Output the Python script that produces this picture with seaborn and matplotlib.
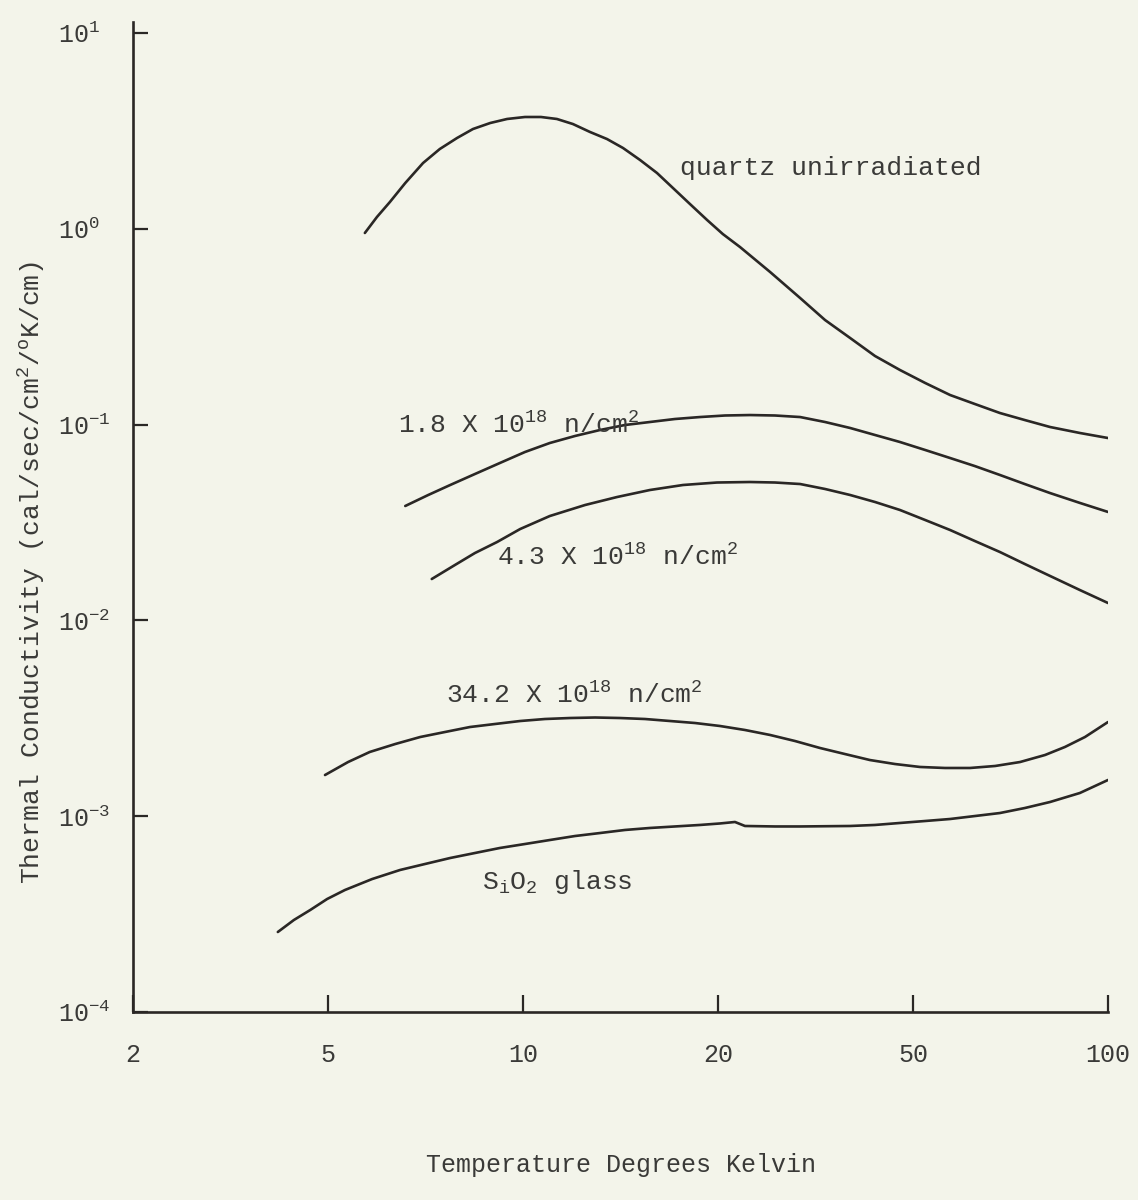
import numpy as np
import pandas as pd
import matplotlib
matplotlib.use("Agg")
import matplotlib.pyplot as plt
import seaborn as sns
from matplotlib.ticker import FixedLocator, FixedFormatter, NullLocator

# ---------------- data ----------------
x_tick_values = [2, 5, 10, 20, 50, 100]
x_tick_labels = ["2", "5", "10", "20", "50", "100"]
y_tick_values = [1e-4, 1e-3, 1e-2, 1e-1, 1e0, 1e1]
y_tick_exps = [-4, -3, -2, -1, 0, 1]

quartz_T = [5.70, 5.95, 6.23, 6.58, 7.01, 7.44, 7.91, 8.37, 8.90, 9.45, 10.07, 10.66,
            11.28, 11.94, 12.69, 13.48, 14.27, 15.16, 16.10, 17.04, 18.10, 19.24, 20.46,
            22.18, 25.55, 29.42, 33.07, 37.21, 41.82, 47.02, 52.2, 57.05, 62.3, 68.1,
            74.4, 81.4, 90.5, 100]
quartz_k = [0.952, 1.149, 1.370, 1.713, 2.168, 2.556, 2.909, 3.233, 3.470, 3.638, 3.724,
            3.724, 3.638, 3.429, 3.122, 2.874, 2.586, 2.246, 1.928, 1.616, 1.339, 1.109,
            0.940, 0.807, 0.6016, 0.4431, 0.3421, 0.2769, 0.2241, 0.1901, 0.1632, 0.1416,
            0.1274, 0.1146, 0.1055, 0.0972, 0.0906, 0.0854]

irr18_T = [6.58, 7.14, 7.72, 8.43, 9.21, 10.07, 11.00, 12.03, 13.15, 14.37, 15.70, 17.16,
           18.76, 20.67, 23.24, 26.14, 29.42, 33.07, 37.21, 41.82, 47.02, 52.2, 57.05,
           62.3, 68.1, 74.4, 81.4, 90.5, 100]
irr18_k = [0.0384, 0.0437, 0.04915, 0.05594, 0.06365, 0.07245, 0.08054, 0.08746, 0.09385,
           0.09954, 0.1031, 0.1068, 0.1093, 0.1113, 0.1119, 0.1113, 0.1093, 0.1031,
           0.0961, 0.0885, 0.0815, 0.0742, 0.0675, 0.0614, 0.0553, 0.0497, 0.0447,
           0.0398, 0.0358]

irr43_T = [7.23, 7.85, 8.43, 9.12, 9.90, 11.00, 12.47, 13.97, 15.70, 17.66, 19.93, 23.24,
           26.14, 29.42, 33.07, 37.21, 41.82, 47.02, 52.2, 57.05, 62.3, 68.1, 74.4, 81.4,
           90.5, 100]
irr43_k = [0.01627, 0.01918, 0.02209, 0.02514, 0.02929, 0.03413, 0.03885, 0.04267,
           0.04634, 0.04915, 0.05061, 0.05091, 0.05061, 0.04972, 0.04690, 0.04370,
           0.04025, 0.03664, 0.03257, 0.02895, 0.02543, 0.02235, 0.01941, 0.01686,
           0.01429, 0.01227]

irr342_T = [4.93, 5.37, 5.80, 6.35, 6.94, 7.58, 8.28, 9.05, 9.90, 10.81, 11.82, 12.92,
            14.11, 15.43, 16.87, 18.43, 20.18, 22.70, 25.55, 28.72, 32.30, 36.32, 40.83,
            45.95, 51.27, 56.03, 61.23, 66.95, 73.15, 79.95, 85.81, 92.15, 100]
irr342_k = [0.001623, 0.001891, 0.002128, 0.002337, 0.002538, 0.002692, 0.002854,
            0.002957, 0.003063, 0.003136, 0.003173, 0.003192, 0.003173, 0.003136,
            0.003063, 0.002992, 0.002889, 0.002756, 0.002599, 0.002421, 0.002230,
            0.002077, 0.001936, 0.001847, 0.001784, 0.001763, 0.001763, 0.001805,
            0.001891, 0.002054, 0.002257, 0.002538, 0.003027]

glass_T = [3.95, 4.26, 4.60, 4.98, 5.31, 5.85, 6.46, 7.06, 7.72, 8.43, 9.21, 10.07, 11.00,
           12.03, 13.15, 14.37, 15.70, 17.16, 18.76, 20.18, 21.66, 22.70, 26.14, 29.42,
           37.21, 41.82, 47.02, 52.2, 57.05, 62.3, 68.1, 74.4, 81.4, 90.5, 100]
glass_k = [0.0002562, 0.0002951, 0.0003319, 0.0003777, 0.0004198, 0.0004777, 0.0005313,
           0.0005701, 0.0006117, 0.0006487, 0.0006881, 0.0007211, 0.0007557, 0.0007921,
           0.0008205, 0.0008505, 0.0008707, 0.0008863, 0.0009021, 0.0009180, 0.0009342,
           0.0008913, 0.0008863, 0.0008863, 0.0008913, 0.0009021, 0.0009234, 0.0009451,
           0.0009676, 0.001002, 0.001038, 0.001101, 0.001182, 0.001314, 0.001531]

series_names = ["quartz", "1.8e18", "4.3e18", "34.2e18", "glass"]

label_texts = [
    "quartz unirradiated",
    r"1.8 X 10$^{\mathdefault{18}}$ n/cm$^{\mathdefault{2}}$",
    r"4.3 X 10$^{\mathdefault{18}}$ n/cm$^{\mathdefault{2}}$",
    r"34.2 X 10$^{\mathdefault{18}}$ n/cm$^{\mathdefault{2}}$",
    r"S$_{\mathdefault{i}}$O$_{\mathdefault{2}}$ glass",
]
label_T = [17.5, 6.41, 9.12, 7.6, 8.65]
label_k = [2.05, 0.0996, 0.0211, 0.00416, 0.00046]

# ---------------- styling ----------------
PAPER = "#f3f4ea"
INK = "#2a2725"
TEXT = "#3a3a38"

sns.set_theme(style="ticks")
plt.rcParams["font.family"] = ["Liberation Mono", "DejaVu Sans Mono"]
plt.rcParams["mathtext.fontset"] = "custom"
plt.rcParams["mathtext.rm"] = "Liberation Mono"
plt.rcParams["mathtext.it"] = "Liberation Mono"
plt.rcParams["mathtext.bf"] = "Liberation Mono:bold"
plt.rcParams["axes.unicode_minus"] = True

fig = plt.figure(figsize=(11.38, 12), dpi=100, facecolor=PAPER)
ax = fig.add_axes([133 / 1138, 1 - 1012 / 1200, (1108 - 133) / 1138, (1012 - 22) / 1200])
ax.set_facecolor(PAPER)

# piecewise scale: 2,5,10,20,50,100 equally spaced (as on the original sheet)
_logs = np.log10(np.array(x_tick_values, dtype=float))
_idx = np.arange(len(x_tick_values), dtype=float)


def _fwd(v):
    v = np.asarray(v, dtype=float)
    return np.interp(np.log10(np.clip(v, 1e-12, None)), _logs, _idx)


def _inv(i):
    i = np.asarray(i, dtype=float)
    return 10 ** np.interp(i, _idx, _logs)


ax.set_xscale("function", functions=(_fwd, _inv))
ax.set_yscale("log")

# ---------------- data frame & lines ----------------
frames = []
for name, T, k in zip(series_names,
                      [quartz_T, irr18_T, irr43_T, irr342_T, glass_T],
                      [quartz_k, irr18_k, irr43_k, irr342_k, glass_k]):
    frames.append(pd.DataFrame({"T": T, "k": k, "series": name}))
df = pd.concat(frames, ignore_index=True)

sns.lineplot(data=df, x="T", y="k", hue="series", palette=[INK] * len(series_names),
             estimator=None, sort=False, legend=False, linewidth=1.9,
             solid_joinstyle="round", solid_capstyle="round", ax=ax)

# ---------------- axes ----------------
ax.set_xlim(2, 100)
ax.set_ylim(1e-4, 10 ** (1 + 11 / 195.8))
for s in ["top", "right"]:
    ax.spines[s].set_visible(False)
for s in ["left", "bottom"]:
    ax.spines[s].set_color(INK)
    ax.spines[s].set_linewidth(1.9)

ax.xaxis.set_major_locator(FixedLocator(x_tick_values))
ax.xaxis.set_major_formatter(FixedFormatter(x_tick_labels))
ax.xaxis.set_minor_locator(NullLocator())
ax.yaxis.set_major_locator(FixedLocator(y_tick_values))
ax.yaxis.set_major_formatter(FixedFormatter([r"$\mathdefault{10^{%d}}$" % e for e in y_tick_exps]))
ax.yaxis.set_minor_locator(NullLocator())

ax.tick_params(axis="x", direction="in", length=12, width=1.6, color=INK,
               labelsize=18, labelcolor=TEXT, pad=22)
ax.tick_params(axis="y", direction="in", length=11, width=1.6, color=INK,
               labelsize=18, labelcolor=TEXT, pad=54)
for lab in ax.get_yticklabels():
    lab.set_horizontalalignment("left")

ax.set_xlabel("Temperature Degrees Kelvin", fontsize=18, color=TEXT, labelpad=62)
ax.set_ylabel(r"Thermal Conductivity (cal/sec/cm$^{\mathdefault{2}}$/$^{\mathdefault{o}}$K/cm)",
              fontsize=19, color=TEXT)
ax.yaxis.label.set_verticalalignment("center")
ax.yaxis.set_label_coords(-0.1036, 0.444)

for txt, tx, ty in zip(label_texts, label_T, label_k):
    ax.text(tx, ty, txt, fontsize=19, color=TEXT, ha="left", va="center")

fig.savefig("out.png", dpi=100, facecolor=PAPER)
